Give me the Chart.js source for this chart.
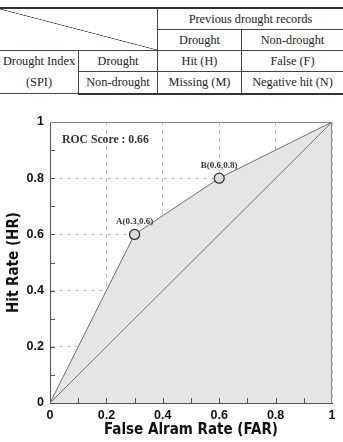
<!DOCTYPE html>
<html>
<head>
<meta charset="utf-8">
<script src="https://cdn.jsdelivr.net/npm/chart.js@4"></script>
<style>
  body { margin: 0; width: 343px; height: 442px; background: #fff; position: relative; overflow: hidden; }
  /* tabla de contingencia */
  #tabla { position: absolute; top: 7px; left: 0; width: 343px; border-collapse: collapse;
    font-family: "Liberation Serif", "Times New Roman", serif; font-size: 12.3px; color: #222; }
  #tabla td { text-align: center; padding: 0; height: 20px; border: 1px solid #444; }
  #tabla tr:first-child td { border-top: 2px solid #333; }
  #tabla tr:last-child td { border-bottom: 2px solid #333; }
  #tabla td:first-child { border-left: none; }
  #tabla td:last-child { border-right: none; }
  .diag { background: linear-gradient(to top right, transparent calc(50% - 0.7px), #444 50%, transparent calc(50% + 0.7px)); }
  #wrap { position: absolute; top: 100px; left: 0; width: 343px; height: 342px; }
</style>
</head>
<body>
<table id="tabla">
  <tr>
    <td class="diag" colspan="2" rowspan="2" style="width:156px"></td>
    <td colspan="2">Previous drought records</td>
  </tr>
  <tr>
    <td style="width:83px">Drought</td>
    <td>Non-drought</td>
  </tr>
  <tr>
    <td rowspan="2" style="width:78px; line-height:21px">Drought Index<br>(SPI)</td>
    <td style="width:78px">Drought</td>
    <td>Hit (H)</td>
    <td>False (F)</td>
  </tr>
  <tr>
    <td>Non-drought</td>
    <td>Missing (M)</td>
    <td>Negative hit (N)</td>
  </tr>
</table>
<div id="wrap"><canvas id="grafico" width="343" height="342"></canvas></div>
<script>
// Datos de la curva ROC
const farValues = [0, 0.3, 0.6, 1];
const hrValues = [0, 0.6, 0.8, 1];
const pointLabels = ["", "A(0.3,0.6)", "B(0.6,0.8)", ""];
const diagFar = [0, 1];
const diagHr = [0, 1];
const rocScore = "ROC Score : 0.66";
const minorStep = 0.1;

// Armando los puntos
let rocPoints = [];
for (let i = 0; i < farValues.length; i++) {
  rocPoints.push({ x: farValues[i], y: hrValues[i] });
}
let diagPoints = [];
for (let i = 0; i < diagFar.length; i++) {
  diagPoints.push({ x: diagFar[i], y: diagHr[i] });
}

// Plugin: marco, ticks menores, etiquetas de puntos y score
const extras = {
  id: "extras",
  afterDatasetsDraw(chart) {
    const ctx = chart.ctx;
    const area = chart.chartArea;
    const xs = chart.scales.x;
    const ys = chart.scales.y;
    ctx.save();
    // marco
    ctx.strokeStyle = "#888";
    ctx.lineWidth = 1;
    ctx.beginPath();
    ctx.moveTo(area.left, area.top + 0.5);
    ctx.lineTo(area.right - 0.5, area.top + 0.5);
    ctx.lineTo(area.right - 0.5, area.bottom);
    ctx.stroke();
    // ticks menores hacia adentro
    ctx.strokeStyle = "#555";
    ctx.beginPath();
    for (let v = minorStep; v < 0.99; v += minorStep) {
      const px = Math.round(xs.getPixelForValue(v)) + 0.5;
      ctx.moveTo(px, area.bottom);
      ctx.lineTo(px, area.bottom - 5);
      const py = Math.round(ys.getPixelForValue(v)) + 0.5;
      ctx.moveTo(area.left, py);
      ctx.lineTo(area.left + 5, py);
    }
    ctx.stroke();
    // etiquetas A y B
    ctx.fillStyle = "#333";
    ctx.font = "bold 9px 'Liberation Serif', serif";
    ctx.textAlign = "center";
    ctx.textBaseline = "middle";
    for (let i = 0; i < farValues.length; i++) {
      if (pointLabels[i] !== "") {
        ctx.fillText(pointLabels[i], xs.getPixelForValue(farValues[i]), ys.getPixelForValue(hrValues[i]) - 13);
      }
    }
    // score
    ctx.font = "bold 11.7px 'Liberation Serif', serif";
    ctx.textAlign = "left";
    ctx.fillStyle = "#333";
    ctx.fillText(rocScore, area.left + 12, area.top + 18);
    ctx.restore();
  }
};

const fuenteEje = { family: "'Liberation Sans', Arial", size: 12.5, weight: "bold" };
const fuenteTitulo = { family: "'Liberation Sans Narrow', 'DejaVu Sans Condensed', Arial", size: 15, weight: "bold" };

var chart = new Chart(document.getElementById("grafico"), {
  type: "scatter",
  data: {
    datasets: [
      {
        data: rocPoints,
        order: 1,
        showLine: true,
        borderColor: "#707070",
        borderWidth: 1,
        backgroundColor: "#e5e5e5",
        fill: "origin",
        pointRadius: pointLabels.map(l => (l === "" ? 0 : 5)),
        pointBackgroundColor: "#dcdcdc",
        pointBorderColor: "#333",
        pointBorderWidth: 1.3
      },
      {
        data: diagPoints,
        order: 0,
        showLine: true,
        borderColor: "#707070",
        borderWidth: 1,
        pointRadius: 0,
        fill: false
      }
    ]
  },
  options: {
    responsive: false,
    animation: false,
    layout: { padding: { top: 22, right: 11, left: 0, bottom: 0 } },
    plugins: { legend: { display: false }, tooltip: { enabled: false } },
    scales: {
      x: {
        type: "linear",
        min: 0,
        max: 1,
        afterFit: s => { s.height = 39; },
        border: { display: true, color: "#555", width: 1, dash: [4, 4] },
        grid: { color: "#c4c4c4", drawTicks: false },
        ticks: { stepSize: 0.2, padding: 5, color: "#111", font: fuenteEje, callback: v => String(Math.round(v * 10) / 10) },
        title: { display: true, text: "False Alram Rate (FAR)", color: "#111", padding: { top: 0, bottom: 3 }, font: fuenteTitulo }
      },
      y: {
        type: "linear",
        min: 0,
        max: 1,
        afterFit: s => { s.width = 50; },
        border: { display: true, color: "#555", width: 1, dash: [4, 4] },
        grid: { color: "#c4c4c4", drawTicks: false },
        ticks: { stepSize: 0.2, padding: 6, color: "#111", font: fuenteEje, callback: v => String(Math.round(v * 10) / 10) },
        title: { display: true, text: "Hit Rate (HR)", color: "#111", padding: { top: 5, bottom: 0 }, font: fuenteTitulo }
      }
    }
  },
  plugins: [extras]
});
</script>
</body>
</html>
